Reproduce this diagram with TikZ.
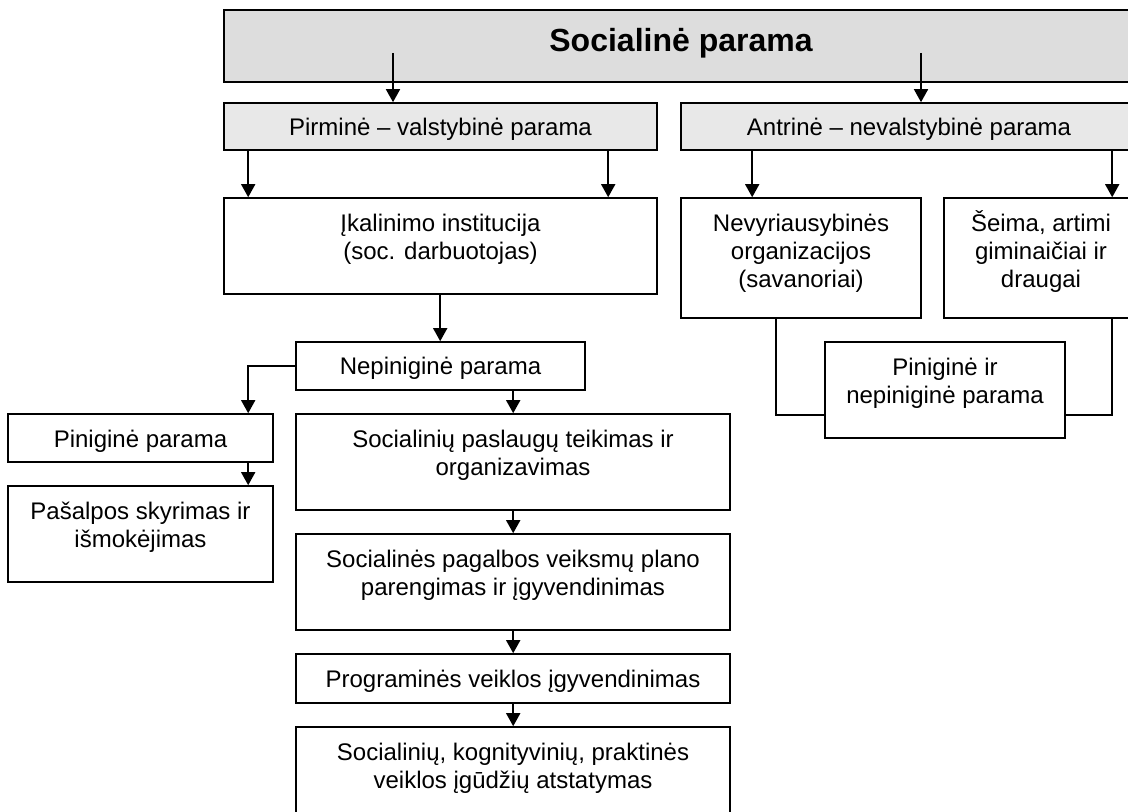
\documentclass[tikz,border=0pt]{standalone}
\usepackage{fontspec}
\setmainfont{Liberation Sans}
\usetikzlibrary{arrows.meta,fit,calc}
\definecolor{hdrgray}{RGB}{221,221,221}
\definecolor{subgray}{RGB}{232,232,232}
\newcommand\bodyfont{\fontsize{12}{13.8}\selectfont}
\newcommand\titlefont{\fontsize{16}{18}\selectfont\bfseries}
\newcommand\mystrut{\rule{0pt}{12pt}}
\newcommand\mybigstrut{\rule{0pt}{16pt}}
\begin{document}
\begin{tikzpicture}[x=0.5pt,y=-0.5pt,
  bx/.style={draw=black, line width=0.8pt, inner sep=0pt},
  txt/.style={anchor=north, inner sep=0pt, align=center, font=\bodyfont},
  arr/.style={line width=0.8pt, -{Triangle[width=7pt,length=6.5pt]}},
  ln/.style={line width=0.8pt}]
\useasboundingbox (0,0) rectangle (1128,812);
\clip (0,0) rectangle (1128,812);

% boxes
\node[bx, fill=hdrgray, fit={(224,10) (1138,82)}] (hdr) {};
\node[bx, fill=subgray, fit={(224,103) (657,150)}] (pir) {};
\node[bx, fill=subgray, fit={(681,103) (1138,150)}] (ant) {};
\node[bx, fit={(224,198) (657,294)}] (ikal) {};
\node[bx, fit={(681,198) (921,318)}] (ngo) {};
\node[bx, fit={(944,198) (1138,318)}] (fam) {};
\node[bx, fit={(825,342) (1065,438)}] (mix) {};
\node[bx, fit={(296,342) (585,390)}] (nep) {};
\node[bx, fit={(8,414) (273,462)}] (pin) {};
\node[bx, fit={(296,414) (730,510)}] (svc) {};
\node[bx, fit={(8,486) (273,582)}] (pas) {};
\node[bx, fit={(296,534) (730,630)}] (plan) {};
\node[bx, fit={(296,654) (730,703)}] (prog) {};
\node[bx, fit={(296,727) (730,823)}] (last) {};

% texts
\node[anchor=north, inner sep=0pt, font=\titlefont] (hdrT) at (681,19) {\mybigstrut Socialinė parama};
\node[txt] (pirT) at (440.5,111) {\mystrut Pirminė – valstybinė parama};
\node[txt] (antT) at (909,111) {\mystrut Antrinė – nevalstybinė parama};
\node[txt] (ikalT) at (440.5,207.5) {\mystrut Įkalinimo institucija\\(soc. darbuotojas)};
\node[txt] (ngoT) at (801,207.5) {\mystrut Nevyriausybinės\\organizacijos\\(savanoriai)};
\node[txt] (famT) at (1041,207.5) {\mystrut Šeima, artimi\\giminaičiai ir\\draugai};
\node[txt] (mixT) at (945,351.5) {\mystrut Piniginė ir\\nepiniginė parama};
\node[txt] (nepT) at (440.5,350) {\mystrut Nepiniginė parama};
\node[txt] (pinT) at (140.5,423) {\mystrut Piniginė parama};
\node[txt] (svcT) at (513,423.5) {\mystrut Socialinių paslaugų teikimas ir\\organizavimas};
\node[txt] (pasT) at (140.5,495.5) {\mystrut Pašalpos skyrimas ir\\išmokėjimas};
\node[txt] (planT) at (513,543.5) {\mystrut Socialinės pagalbos veiksmų plano\\parengimas ir įgyvendinimas};
\node[txt] (progT) at (513,662.7) {\mystrut Programinės veiklos įgyvendinimas};
\node[txt] (lastT) at (513,736.5) {\mystrut Socialinių, kognityvinių, praktinės\\veiklos įgūdžių atstatymas};

% connectors
\coordinate (h1) at (393,53);
\coordinate (h2) at (921,53);
\draw[arr] (h1) -- (h1 |- pir.north);
\draw[arr] (h2) -- (h2 |- ant.north);
\draw[arr] ($(pir.south west)+(25,0)$) -- ($(ikal.north west)+(25,0)$);
\draw[arr] ($(pir.south west)+(385,0)$) -- ($(ikal.north west)+(385,0)$);
\draw[arr] ($(ant.south west)+(72,0)$) -- ($(ngo.north west)+(72,0)$);
\draw[arr] ($(ant.south west)+(432,0)$) -- ($(fam.north west)+(169,0)$);
\draw[ln] ($(ngo.south west)+(96,0)$) |- ($(mix.south west)+(0,-24)$);
\draw[ln] ($(fam.south west)+(169,0)$) |- ($(mix.south east)+(0,-24)$);
\draw[arr] ($(ikal.south west)+(217,0)$) -- ($(nep.north west)+(145,0)$);
\draw[arr] (nep.west) -| ($(pin.north west)+(241,0)$);
\draw[arr] ($(nep.south west)+(218,0)$) -- ($(svc.north west)+(218,0)$);
\draw[arr] ($(pin.south west)+(241,0)$) -- ($(pas.north west)+(241,0)$);
\draw[arr] ($(svc.south west)+(218,0)$) -- ($(plan.north west)+(218,0)$);
\draw[arr] ($(plan.south west)+(218,0)$) -- ($(prog.north west)+(218,0)$);
\draw[arr] ($(prog.south west)+(218,0)$) -- ($(last.north west)+(218,0)$);
\end{tikzpicture}
\end{document}
